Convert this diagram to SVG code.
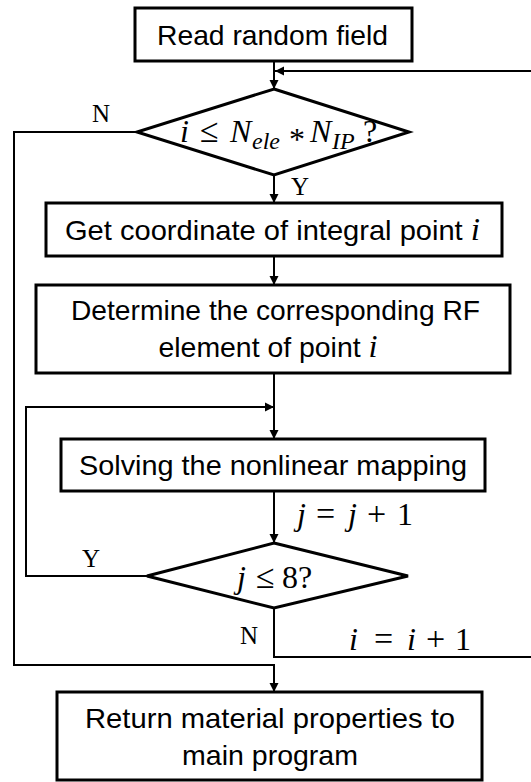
<svg xmlns="http://www.w3.org/2000/svg" width="531" height="782" viewBox="0 0 531 782">
  <style>
    .box { fill: #ffffff; stroke: #000000; stroke-width: 3; }
    .edge { fill: none; stroke: #000000; stroke-width: 2; }
    .lbl { font-family: "Liberation Sans", Arial, sans-serif; font-size: 28px; fill: #000000; text-anchor: middle; }
    .math { font-family: "Liberation Serif", "Times New Roman", serif; font-size: 32px; fill: #000000; }
    .op { font-size: 34px; }
    .it { font-style: italic; }
    .sub { font-size: 24px; font-style: italic; }
    .yn { font-family: "Liberation Serif", "Times New Roman", serif; font-size: 25px; fill: #000000; }
  </style>
  <defs>
    <marker id="arrow" viewBox="0 0 10 10" refX="10" refY="5" markerWidth="9" markerHeight="10" markerUnits="userSpaceOnUse" orient="auto">
      <path d="M0,0 L10,5 L0,10 z" fill="#000000"/>
    </marker>
  </defs>

  <!-- connectors -->
  <g id="connectors">
    <path class="edge" d="M274,61 V89" marker-end="url(#arrow)"/>
    <path class="edge" d="M274,175 V203" marker-end="url(#arrow)"/>
    <path class="edge" d="M274,256 V285" marker-end="url(#arrow)"/>
    <path class="edge" d="M274,373 V439" marker-end="url(#arrow)"/>
    <path class="edge" d="M274,491 V543" marker-end="url(#arrow)"/>
    <!-- inner loop: j <= 8 yes -->
    <path class="edge" d="M147,576 H26 V407 H274" marker-end="url(#arrow)"/>
    <!-- outer loop: i = i + 1 back to the first test -->
    <path class="edge" d="M274,608 V657 H534 V71 H275" marker-end="url(#arrow)"/>
    <!-- exit: i > Nele*NIP -->
    <path class="edge" d="M137,132 H14 V665 H274 V692" marker-end="url(#arrow)"/>
  </g>

  <g id="read-field">
    <rect class="box" x="135" y="8" width="277" height="53"/>
    <text class="lbl" x="272.5" y="45" textLength="231" lengthAdjust="spacingAndGlyphs">Read random field</text>
  </g>

  <g id="check-i">
    <polygon class="box" points="274,89 409,132 274,175 137,132"/>
    <text class="math" y="142"><tspan class="it" x="180">i</tspan><tspan class="op" x="200">≤</tspan><tspan class="it" x="230">N</tspan><tspan class="sub" x="252" dy="7">ele</tspan><tspan x="289" dy="1">*</tspan><tspan class="it" x="310" dy="-8">N</tspan><tspan class="sub" x="332" dy="7">IP</tspan><tspan x="363" dy="-7">?</tspan></text>
    <text class="yn" x="92" y="122">N</text>
    <text class="yn" x="291" y="195">Y</text>
  </g>

  <g id="get-coordinate">
    <rect class="box" x="46" y="203" width="456" height="53"/>
    <text class="lbl" x="272.5" y="240" textLength="415" lengthAdjust="spacingAndGlyphs">Get coordinate of integral point <tspan class="math it">i</tspan></text>
  </g>

  <g id="find-element">
    <rect class="box" x="36" y="285" width="474" height="88"/>
    <text class="lbl" x="275.5" y="320" textLength="409" lengthAdjust="spacingAndGlyphs">Determine the corresponding RF</text>
    <text class="lbl" x="268" y="357" textLength="219" lengthAdjust="spacingAndGlyphs">element of point <tspan class="math it">i</tspan></text>
  </g>

  <g id="solve-mapping">
    <rect class="box" x="61" y="439" width="424" height="52"/>
    <text class="lbl" x="273" y="475" textLength="388" lengthAdjust="spacingAndGlyphs">Solving the nonlinear mapping</text>
    <text class="math" y="525"><tspan class="it" x="297">j</tspan><tspan class="op" x="316">=</tspan><tspan class="it" x="348">j</tspan><tspan class="op" x="367">+</tspan><tspan x="397">1</tspan></text>
  </g>

  <g id="check-j">
    <polygon class="box" points="274,543 408,576 274,608 147,576"/>
    <text class="math" y="588"><tspan class="it" x="237">j</tspan><tspan class="op" x="256">≤</tspan><tspan x="282">8?</tspan></text>
    <text class="yn" x="82" y="567">Y</text>
    <text class="yn" x="240" y="644">N</text>
    <text class="math" y="650"><tspan class="it" x="349">i</tspan><tspan class="op" x="374">=</tspan><tspan class="it" x="407">i</tspan><tspan class="op" x="426">+</tspan><tspan x="455">1</tspan></text>
  </g>

  <g id="return-props">
    <rect class="box" x="57" y="692" width="425" height="88"/>
    <text class="lbl" x="270" y="728" textLength="370" lengthAdjust="spacingAndGlyphs">Return material properties to</text>
    <text class="lbl" x="270" y="765" textLength="176" lengthAdjust="spacingAndGlyphs">main program</text>
  </g>
</svg>
